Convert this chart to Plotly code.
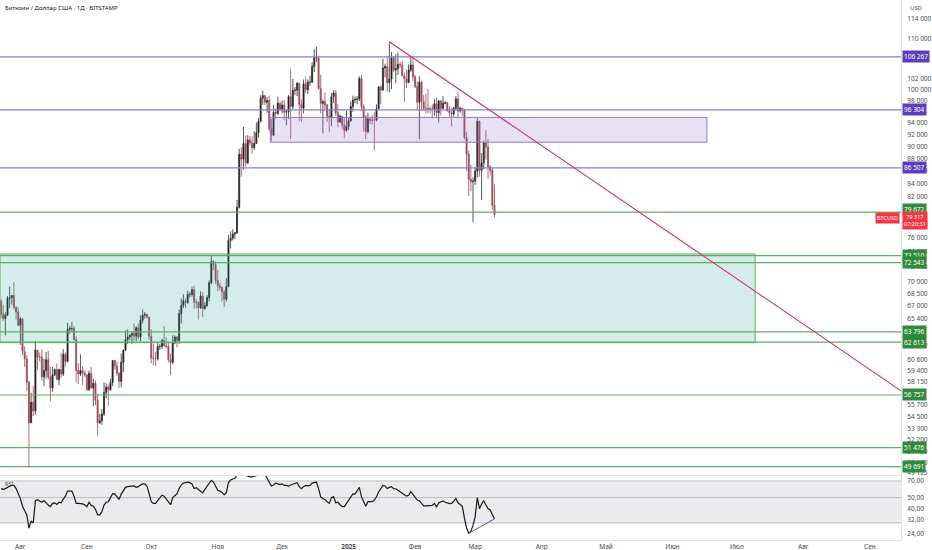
import math
import pandas as pd
import plotly.graph_objects as go
from plotly.subplots import make_subplots

# daily candles BTCUSD (Bitstamp), first candle 23 Jul 2024
START_DATE = "2024-07-23"
X_START = "2024-07-22 12:00"
X_END = "2025-09-15 12:00"

open_ = [
    # Jul
    67550, 65950, 65400, 65800, 67900, 68000, 68250, 66800, 66200,
    # Aug
    64600, 65350, 61500, 60700, 58100, 53900, 56000, 55100, 61700, 60900, 60900, 58700, 59400, 60600, 58700, 57500,
    58900, 59500, 58400, 59500, 59000, 61200, 60400, 64100, 64200, 64200, 62900, 59400, 59000, 59400, 59100,
    # Sep
    58900, 57300, 59100, 57500, 58000, 56200, 53900, 54100, 54800, 57000, 57600, 57300, 58100, 60500, 59900,
    59100, 58200, 60300, 61700, 62900, 63200, 63400, 63600, 63300, 64300, 63200, 65200, 65800, 65900, 65600,
    # Oct
    63300, 60800, 60700, 60700, 62100, 62100, 62800, 62200, 62100, 60600, 60300, 62500, 63200, 62800, 66000, 67000,
    67600, 67400, 68400, 68400, 69000, 67400, 67400, 66700, 68200, 66600, 67000, 68000, 69900, 72700, 72300,
    # Nov
    70200, 69500, 69300, 68700, 67800, 69400, 75600, 75900, 76500, 76700, 80400, 88700, 87900, 90500, 87300,
    91100, 90600, 89800, 90500, 92300, 94300, 98400, 98900, 97700, 98000, 93000, 91900, 95900, 95700, 97500,
    # Dec
    96400, 97200, 95900, 96000, 98700, 96900, 99900, 99900, 101200, 97300, 96600, 101100, 100000, 101400, 101400,
    104400, 106100, 106100, 100200, 97500, 97800, 97200, 95200, 94900, 98700, 99400, 95800, 94200, 95200, 93600, 92700,
    # Jan
    93400, 94400, 96900, 98100, 98200, 98300, 102100, 96900, 95000, 92500, 94700, 94500, 94500, 94500, 96500,
    100500, 99900, 104100, 104400, 101300, 102000, 106100, 103700, 104000, 104800, 104700, 102600, 102000, 101300,
    103700, 104700,
    # Feb
    102400, 100600, 97700, 101400, 97800, 96600, 96600, 96500, 96500, 96500, 97400, 95800, 97900, 96600, 97500,
    97600, 96100, 95800, 95600, 96600, 98300, 96100, 96600, 96300, 91500, 88700, 84700, 84300,
    # Mar
    84400, 86000, 94300, 86100, 87300, 90600, 89900, 86700, 86100, 80700,
]
high = [
    67800, 67100, 66150, 68200, 69400, 68300, 70000, 66900, 66800,
    65600, 65500, 62100, 61100, 58300, 57000, 57700, 62700, 61700, 61400, 61800, 60700, 61500, 61600, 59800, 59800,
    59600, 60200, 59600, 61400, 61800, 61400, 64900, 64500, 65000, 64500, 63300, 60200, 61200, 59900, 59400,
    59000, 59400, 59800, 58500, 58300, 56900, 54800, 55300, 58100, 58000, 57900, 58500, 60500, 60600, 60400,
    59200, 61300, 61700, 64000, 64100, 63500, 63900, 64800, 64500, 64800, 65800, 66500, 66200, 66000, 65600,
    64100, 62400, 61500, 62500, 62400, 63000, 64500, 63200, 62500, 61300, 63400, 63400, 63300, 66500, 67900, 68400,
    67900, 68900, 68700, 69400, 69500, 67800, 67500, 68800, 68700, 67400, 68300, 70200, 73600, 72900, 72700,
    71600, 69900, 69400, 69000, 70500, 76400, 76900, 77200, 76800, 81500, 89600, 89900, 93300, 91800, 91900,
    91800, 91700, 92600, 94100, 94900, 99000, 99800, 98900, 98600, 98900, 94700, 97200, 96600, 98700, 97800,
    98000, 98100, 96300, 99000, 104000, 102000, 100500, 101400, 101200, 98200, 101900, 102500, 101900, 102600, 105200,
    107800, 108300, 106500, 102800, 98200, 99500, 97400, 96400, 99400, 99900, 99900, 97300, 95500, 95200, 94900, 96200,
    94900, 97800, 98900, 98700, 98800, 102500, 102700, 97300, 95400, 95800, 94900, 95400, 95900, 97300, 100700,
    100800, 105900, 104900, 106300, 109300, 107200, 106400, 106800, 107100, 105300, 105500, 103200, 103800, 104800,
    106400, 106000,
    102800, 101500, 102500, 101700, 99000, 99200, 100100, 96900, 97300, 98300, 98500, 98100, 98100, 98800, 97900,
    97700, 97000, 96700, 96900, 98800, 99500, 96900, 96700, 96500, 92500, 89300, 87000, 85000,
    86500, 95000, 94400, 88900, 91000, 92800, 91300, 86900, 86500, 83900,
]
low = [
    65400, 65100, 63400, 65750, 66700, 67100, 66500, 65300, 64500,
    62300, 61100, 59800, 57200, 49600, 53900, 54600, 54700, 59500, 60400, 58300, 57700, 58500, 58400, 56100, 57100,
    58800, 58400, 57800, 58600, 58800, 59800, 60300, 63600, 63800, 62800, 58100, 57900, 58800, 57800, 58700,
    57200, 57200, 57400, 55600, 55700, 52600, 53800, 53700, 54600, 56400, 55600, 57200, 57700, 59500, 58800,
    57500, 57600, 59200, 61600, 62400, 62800, 62400, 62700, 62700, 62900, 62700, 64800, 65400, 65400, 62900,
    60200, 60000, 59900, 60500, 61700, 61800, 62100, 61900, 60300, 58900, 60100, 62400, 62000, 62400, 64800, 66700,
    66700, 67200, 68000, 68100, 66600, 66600, 65300, 66600, 65600, 66500, 66800, 67500, 69700, 71500, 69700,
    68800, 68900, 67500, 66800, 67500, 69300, 74500, 75600, 75800, 76500, 80200, 85100, 86200, 86700, 87100,
    90100, 88800, 89400, 90400, 91500, 94100, 97200, 97200, 95800, 92600, 90800, 91800, 94700, 95400, 96100,
    95700, 94500, 93600, 94700, 91200, 96400, 99000, 98800, 94300, 94200, 95700, 99300, 99200, 100700, 101300,
    103300, 105300, 100000, 95700, 92200, 96400, 94200, 92400, 93400, 97600, 95200, 93300, 94000, 92900, 91400, 92500,
    92800, 94200, 96000, 97500, 97300, 97900, 96200, 92500, 91200, 92200, 93800, 93700, 89300, 94300, 96500,
    97300, 99900, 102300, 99600, 99500, 100100, 103300, 101200, 102800, 104100, 102500, 97800, 100300, 101300,
    103300, 101600,
    100300, 96200, 91200, 96200, 96200, 95700, 95700, 95700, 94800, 95300, 94900, 94100, 95300, 96500, 97300,
    96100, 95100, 93400, 95100, 96400, 94800, 95800, 95300, 91200, 86000, 82100, 82800, 78200,
    83800, 85000, 85100, 81500, 86300, 87800, 84700, 85300, 80000, 78900,
]
close = [
    65950, 65400, 65800, 67900, 68000, 68250, 66800, 66200, 64600,
    65350, 61500, 60700, 58100, 53900, 56000, 55100, 61700, 60900, 60900, 58700, 59400, 60600, 58700, 57500, 58900,
    59500, 58400, 59500, 59000, 61200, 60400, 64100, 64200, 64200, 62900, 59400, 59000, 59400, 59100, 58900,
    57300, 59100, 57500, 58000, 56200, 53900, 54100, 54800, 57000, 57600, 57300, 58100, 60500, 59900, 59100,
    58200, 60300, 61700, 62900, 63200, 63400, 63600, 63300, 64300, 63200, 65200, 65800, 65900, 65600, 63300,
    60800, 60700, 60700, 62100, 62100, 62800, 62200, 62100, 60600, 60300, 62500, 63200, 62800, 66000, 67000, 67600,
    67400, 68400, 68400, 69000, 67400, 67400, 66700, 68200, 66600, 67000, 68000, 69900, 72700, 72300, 70200,
    69500, 69300, 68700, 67800, 69400, 75600, 75900, 76500, 76700, 80400, 88700, 87900, 90500, 87300, 91100,
    90600, 89800, 90500, 92300, 94300, 98400, 98900, 97700, 98000, 93000, 91900, 95900, 95700, 97500, 96400,
    97200, 95900, 96000, 98700, 96900, 99900, 99900, 101200, 97300, 96600, 101100, 100000, 101400, 101400, 104400,
    106100, 106100, 100200, 97500, 97800, 97200, 95200, 94900, 98700, 99400, 95800, 94200, 95200, 93600, 92700, 93400,
    94400, 96900, 98100, 98200, 98300, 102100, 96900, 95000, 92500, 94700, 94500, 94500, 94500, 96500, 100500,
    99900, 104100, 104400, 101300, 102000, 106100, 103700, 104000, 104800, 104700, 102600, 102000, 101300, 103700,
    104700, 102400,
    100600, 97700, 101400, 97800, 96600, 96600, 96500, 96500, 96500, 97400, 95800, 97900, 96600, 97500, 97600,
    96100, 95800, 95600, 96600, 98300, 96100, 96600, 96300, 91500, 88700, 84700, 84300, 84400,
    86000, 94300, 86100, 87300, 90600, 89900, 86700, 86100, 80700, 79300,
]

# RSI(14) as drawn in the lower pane
rsi = [
    60, 59, 60, 62, 63, 64, 64, 60, 54, 49,
    42, 38, 35, 27, 31, 30, 47, 48, 47, 45.5,
    47, 44.5, 43, 41.6, 44.5, 45, 43.5, 45.5, 45, 48.5,
    51.5, 57, 57, 57, 51.5, 44.5, 44.5, 44.5, 44, 43.3,
    41.6, 45.5, 42.7, 42, 39.4, 35.2, 35.2, 37.6, 43, 45.5,
    46, 50, 54.3, 54, 51.5, 48.2, 53.7, 58, 61.5, 62.4,
    62.4, 62.4, 63.3, 61.5, 62.4, 64.5, 66, 66, 63.3, 54.3,
    46, 44.5, 44.5, 47, 50, 52.5, 51.5, 48.2, 46, 43.3,
    50, 52.5, 54, 60, 64.5, 67, 67.7, 68.5, 67.7, 66,
    60, 61, 59, 57.3, 55, 59, 62.4, 67, 71, 68.5,
    62.4, 58, 57, 55.5, 53, 55, 67.7, 71.4, 72.8, 74,
    79, 85, 82, 84, 78.5, 77, 76, 76, 77, 78.5,
    79, 82, 83, 80, 74, 67.7, 63.3, 64.5, 67, 66,
    65, 66, 64, 64, 63, 64.5, 65.5, 66.5, 67.7, 62.4,
    60, 62.4, 64, 63.5, 64, 67, 68, 68.5, 60, 50.8,
    49, 48.2, 46, 44.5, 50, 51, 45, 45.5, 43.3, 41.6,
    41.6, 44.5, 47.6, 51.5, 54, 53.7, 57, 61.5, 50.8, 46,
    42, 46, 46, 46, 47.6, 50.8, 56, 59.8, 64, 63.3,
    60, 61.5, 62.4, 60, 59.8, 58, 56, 54, 53, 51.5,
    52.5, 56.5, 53.7, 50.8, 47.6, 47, 45, 42.3, 42.3, 42.3,
    42.3, 42.7, 44.5, 41.5, 44.8, 46, 46.8, 45.5, 45, 44.2,
    44.5, 46.3, 49.2, 45, 43.5, 42, 33, 27, 24.3, 25.3,
    28.5, 34, 50, 40, 44, 47, 43, 40, 39, 35, 32.5,
]

purple_levels = [106267, 96304, 86507]
green_levels = [79672, 73510, 72543, 63796, 62613, 56757, 51476, 49691]
last_price = 79317

purple_zone_x = ["2024-11-25 12:00", "2025-06-17"]
purple_zone_y = [90700, 94980]
green_zone_x = [X_START, "2025-07-09 12:00"]
green_zone_y = [62540, 73720]
trend_x = ["2025-01-20", "2025-09-15 12:00"]
trend_y = [109300, 57200]
div_x = ["2025-02-26", "2025-03-10"]
div_y = [24.3, 32.5]

price_ticks = [114000, 110000, 102000, 100000, 98000, 94000, 92000, 90000, 88000, 86000, 84000, 82000,
               78000, 76000, 74000, 72000, 70000, 68500, 67000, 65400, 62200, 60600, 59400, 58150,
               55700, 54500, 53300, 52200, 51100, 50100, 49125]
rsi_ticks = [70, 50, 40, 32, 24]
month_ticks = ["2024-08-01", "2024-09-01", "2024-10-01", "2024-11-01", "2024-12-01", "2025-01-01",
               "2025-02-01", "2025-03-01", "2025-04-01", "2025-05-01", "2025-06-01", "2025-07-01",
               "2025-08-01", "2025-09-01"]
month_labels = ["Авг", "Сен", "Окт", "Ноя", "Дек", "<b>2025</b>", "Фев", "Мар", "Апр", "Май",
                "Июн", "Июл", "Авг", "Сен"]

PURPLE_LINE = "#8a7ad8"
PURPLE_BOX = "#5b3fbf"
GREEN_LINE = "#5cb160"
GREEN_BOX = "#2f8a3c"
RED_BOX = "#f23645"


def fmt(v):
    return f"{v:,}".replace(",", " ")


dates = pd.date_range(START_DATE, periods=len(close), freq="D")

fig = make_subplots(rows=2, cols=1, shared_xaxes=True, vertical_spacing=0.004,
                    row_heights=[0.88, 0.12])

# zones
fig.add_trace(go.Scatter(
    x=[green_zone_x[0], green_zone_x[1], green_zone_x[1], green_zone_x[0], green_zone_x[0]],
    y=[green_zone_y[0], green_zone_y[0], green_zone_y[1], green_zone_y[1], green_zone_y[0]],
    mode="lines", fill="toself", fillcolor="rgba(38,166,154,0.2)",
    line=dict(color=GREEN_LINE, width=1), hoverinfo="skip"), row=1, col=1)
fig.add_trace(go.Scatter(
    x=[purple_zone_x[0], purple_zone_x[1], purple_zone_x[1], purple_zone_x[0], purple_zone_x[0]],
    y=[purple_zone_y[0], purple_zone_y[0], purple_zone_y[1], purple_zone_y[1], purple_zone_y[0]],
    mode="lines", fill="toself", fillcolor="rgba(149,117,205,0.22)",
    line=dict(color=PURPLE_LINE, width=1), hoverinfo="skip"), row=1, col=1)

# horizontal levels
for lvl in purple_levels:
    fig.add_trace(go.Scatter(x=[X_START, X_END], y=[lvl, lvl], mode="lines",
                             line=dict(color=PURPLE_LINE, width=1.2), hoverinfo="skip"), row=1, col=1)
for lvl in green_levels:
    fig.add_trace(go.Scatter(x=[X_START, X_END], y=[lvl, lvl], mode="lines",
                             line=dict(color=GREEN_LINE, width=1.2), hoverinfo="skip"), row=1, col=1)

fig.add_trace(go.Candlestick(
    x=dates, open=open_, high=high, low=low, close=close,
    increasing=dict(line=dict(color="#2a2a2a", width=0.8), fillcolor="#111111"),
    decreasing=dict(line=dict(color="#9a4a55", width=0.8), fillcolor="#a14b56"),
    hoverinfo="skip"), row=1, col=1)

# falling trend line
fig.add_trace(go.Scatter(x=trend_x, y=trend_y, mode="lines",
                         line=dict(color="#d0306a", width=1.1), hoverinfo="skip"), row=1, col=1)

# RSI pane
fig.add_trace(go.Scatter(x=[X_START, X_END, X_END, X_START, X_START], y=[30, 30, 70, 70, 30],
                         mode="lines", fill="toself", fillcolor="#ebebed",
                         line=dict(width=0), hoverinfo="skip"), row=2, col=1)
for band in [70, 50, 30]:
    fig.add_trace(go.Scatter(x=[X_START, X_END], y=[band, band], mode="lines",
                             line=dict(color="#bdbdc2", width=1), hoverinfo="skip"), row=2, col=1)
fig.add_trace(go.Scatter(x=dates, y=rsi, mode="lines", line=dict(color="#1a1a1a", width=1.2),
                         hoverinfo="skip"), row=2, col=1)
fig.add_trace(go.Scatter(x=div_x, y=div_y, mode="lines", line=dict(color="#3f5bd8", width=1),
                         hoverinfo="skip"), row=2, col=1)

# labels on the price scale
annotations = []
for lvl in purple_levels:
    annotations.append(dict(x=1, xref="paper", xanchor="left", xshift=1, y=math.log10(lvl), yref="y",
                            text=fmt(lvl), showarrow=False, bgcolor=PURPLE_BOX, borderpad=1,
                            font=dict(color="white", size=6.5)))
for lvl in green_levels:
    shift = 3 if lvl == 79672 else 0
    annotations.append(dict(x=1, xref="paper", xanchor="left", xshift=1, y=math.log10(lvl), yref="y",
                            yshift=shift, text=fmt(lvl), showarrow=False, bgcolor=GREEN_BOX, borderpad=1,
                            font=dict(color="white", size=6.5)))
annotations.append(dict(x=1, xref="paper", xanchor="left", xshift=1, y=math.log10(last_price), yref="y",
                        yshift=-6, text=fmt(last_price) + "<br>07:20:31", showarrow=False, bgcolor=RED_BOX,
                        borderpad=1, font=dict(color="white", size=5.5)))
annotations.append(dict(x=1, xref="paper", xanchor="right", xshift=-1, y=math.log10(last_price), yref="y",
                        yshift=-3, text="BTCUSD", showarrow=False, bgcolor=RED_BOX, borderpad=1,
                        font=dict(color="white", size=5.5)))
annotations.append(dict(x=0, xref="paper", xanchor="left", xshift=3, y=1, yref="paper", yanchor="top",
                        yshift=-2, text="Биткоин / Доллар США · 1Д · BITSTAMP", showarrow=False,
                        font=dict(color="#131722", size=6)))
annotations.append(dict(x=1, xref="paper", xanchor="left", xshift=7, y=1, yref="paper", yanchor="top",
                        yshift=-2, text="USD", showarrow=False, font=dict(color="#4a4a4a", size=6)))
annotations.append(dict(x=0, xref="paper", xanchor="left", xshift=3, y=1, yref="y2 domain", yanchor="top",
                        yshift=-2, text="RSI", showarrow=False, font=dict(color="#4a4a4a", size=5.5)))

fig.update_layout(
    width=932, height=550,
    margin=dict(l=0, r=31, t=0, b=10, autoexpand=False),
    paper_bgcolor="white", plot_bgcolor="white",
    showlegend=False,
    font=dict(family="Noto Sans", size=6.5, color="#4a4a4a"),
    annotations=annotations,
)
fig.update_xaxes(range=[X_START, X_END], showgrid=False, zeroline=False, rangeslider_visible=False,
                 tickvals=month_ticks, ticktext=month_labels, ticks="", automargin=False,
                 showline=True, linecolor="#e3e3e3", linewidth=1)
fig.update_xaxes(showticklabels=False, row=1, col=1)
fig.update_xaxes(showticklabels=True, tickfont=dict(size=6.5, color="#4a4a4a"), row=2, col=1)

fig.update_layout(
    yaxis=dict(domain=[0.1204, 1], type="log", side="right", automargin=False,
               range=[math.log10(48930), math.log10(118090)],
               tickvals=price_ticks, ticktext=[fmt(v) for v in price_ticks],
               showgrid=False, zeroline=False, ticks="", ticklabelstandoff=4,
               showline=True, linecolor="#e3e3e3"),
    yaxis2=dict(domain=[0, 0.1185], type="log", side="right", automargin=False,
                range=[math.log10(21.2), math.log10(77.4)],
                tickvals=rsi_ticks, ticktext=[f"{v},00" for v in rsi_ticks],
                showgrid=False, zeroline=False, ticks="", ticklabelstandoff=4,
                showline=True, linecolor="#e3e3e3"),
)

# the page body has a default 8px margin; drop it so the chart sits at the corner
fig.write_html("out.html", config={"displayModeBar": False},
               post_script="document.body.style.margin='0';")
